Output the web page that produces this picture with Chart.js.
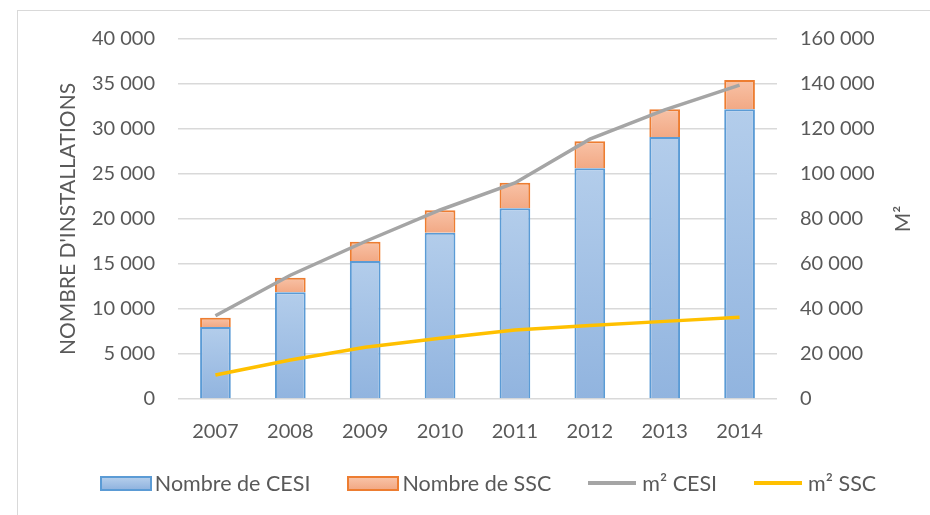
<!DOCTYPE html>
<html>
<head>
<meta charset="utf-8">
<script src="https://cdn.jsdelivr.net/npm/chart.js@4/dist/chart.umd.min.js"></script>
<style>
  html, body { margin: 0; padding: 0; background: #fff; }
  #wrap { position: relative; width: 930px; height: 515px; overflow: hidden; font-family: Lato, sans-serif; }
  #frame { position: absolute; left: 17px; top: 10px; width: 1000px; height: 600px; border: 1px solid #d9d9d9; box-sizing: border-box; }
  canvas { position: absolute; left: 0; top: 0; }
  #legend { position: absolute; left: 0; top: 470px; width: 976px; height: 26px; display: flex; justify-content: center; align-items: center; color: #595959; font-size: 21.5px; }
  .item { display: flex; align-items: center; margin: 0 18.5px; white-space: nowrap; }
  .sw { margin-right: 3px; box-sizing: border-box; }
</style>
</head>
<body>
<div id="wrap">
  <div id="frame"></div>
  <canvas id="c" width="930" height="515"></canvas>
  <div id="legend"></div>
</div>
<script>
const years = ['2007', '2008', '2009', '2010', '2011', '2012', '2013', '2014'];
const cesiCount = [8000, 11850, 15330, 18480, 21200, 25630, 29100, 32190];
const sscCount = [1030, 1630, 2150, 2480, 2830, 3000, 3100, 3250];
const m2Cesi = [37000, 55000, 70000, 84000, 96000, 115500, 128500, 139500];
const m2Ssc = [10700, 17300, 23000, 27000, 30700, 32700, 34500, 36300];
const seriesNames = ['Nombre de CESI', 'Nombre de SSC', 'm² CESI', 'm² SSC'];
const leftTitle = "NOMBRE D'INSTALLATIONS";
const rightTitle = 'M²';

const TEXT = '#595959';
const FONT = { family: 'Lato, sans-serif', size: 20 };
const TITLE_FONT = { family: 'Lato, sans-serif', size: 21 };

function fmt(v) {
  return String(Math.round(v)).replace(/\B(?=(\d{3})+(?!\d))/g, ' ');
}

function barGradient(baseArr, light, dark, fallback) {
  return (ctx) => {
    const chart = ctx.chart;
    if (!chart.chartArea || ctx.type !== 'data') return fallback;
    const y = chart.scales.y;
    const i = ctx.dataIndex;
    const base = baseArr ? baseArr[i] : 0;
    const top = base + ctx.raw;
    const y0 = y.getPixelForValue(top);
    const y1 = y.getPixelForValue(base);
    const g = chart.ctx.createLinearGradient(0, y0, 0, y1);
    g.addColorStop(0, light);
    g.addColorStop(1, dark);
    return g;
  };
}

const rightTitlePlugin = {
  id: 'rightTitle',
  afterDraw(chart) {
    const { ctx, chartArea } = chart;
    ctx.save();
    ctx.translate(903, (chartArea.top + chartArea.bottom) / 2);
    ctx.rotate(-Math.PI / 2);
    ctx.fillStyle = TEXT;
    ctx.font = TITLE_FONT.size + 'px ' + TITLE_FONT.family;
    ctx.textAlign = 'center';
    ctx.textBaseline = 'middle';
    ctx.fillText(rightTitle, 0, 0);
    ctx.restore();
  }
};

const chart = new Chart(document.getElementById('c'), {
  data: {
    labels: years,
    datasets: [
      {
        type: 'bar', label: seriesNames[0], data: cesiCount, yAxisID: 'y', order: 2,
        backgroundColor: barGradient(null, '#b3cdeb', '#91b4df', '#a3c1e6'),
        borderColor: '#5b9bd5', borderWidth: 2,
        barPercentage: 0.41, categoryPercentage: 1
      },
      {
        type: 'bar', label: seriesNames[1], data: sscCount, yAxisID: 'y', order: 2,
        backgroundColor: barGradient(cesiCount, '#f8c2a6', '#f2a985', '#f5b594'),
        borderColor: '#ed7d31', borderWidth: 2,
        barPercentage: 0.41, categoryPercentage: 1
      },
      {
        type: 'line', label: seriesNames[2], data: m2Cesi, yAxisID: 'y1', order: 1,
        borderColor: '#a5a5a5', borderWidth: 3.5, pointRadius: 0, tension: 0, fill: false
      },
      {
        type: 'line', label: seriesNames[3], data: m2Ssc, yAxisID: 'y1', order: 0,
        borderColor: '#ffc000', borderWidth: 3.5, pointRadius: 0, tension: 0, fill: false
      }
    ]
  },
  options: {
    responsive: false,
    animation: false,
    layout: { padding: { top: 39, left: 0, right: 0, bottom: 0 } },
    plugins: { legend: { display: false }, tooltip: { enabled: false } },
    scales: {
      x: {
        stacked: true,
        grid: { display: false, drawTicks: false },
        border: { display: false },
        ticks: { color: TEXT, font: FONT, padding: 21, maxRotation: 0 },
        afterFit(s) { s.height = 116; }
      },
      y: {
        position: 'left', stacked: true, min: 0, max: 40000,
        grid: { color: '#d9d9d9', lineWidth: 1.4, drawTicks: false },
        border: { display: false },
        ticks: { stepSize: 5000, color: TEXT, font: FONT, padding: 23, callback: (v) => fmt(v) },
        title: { display: true, text: leftTitle, color: TEXT, font: TITLE_FONT, padding: { top: 56, bottom: 0 } },
        afterFit(s) { s.width = 178; }
      },
      y1: {
        position: 'right', stacked: false, min: 0, max: 160000,
        grid: { display: false, drawTicks: false },
        border: { display: false },
        ticks: { stepSize: 20000, color: TEXT, font: FONT, padding: 23, callback: (v) => fmt(v) },
        afterFit(s) { s.width = 153; }
      }
    }
  },
  plugins: [rightTitlePlugin]
});

// HTML legend built from the chart datasets
const legend = document.getElementById('legend');
chart.data.datasets.forEach((ds) => {
  const item = document.createElement('div');
  item.className = 'item';
  const sw = document.createElement('span');
  sw.className = 'sw';
  if (ds.type === 'bar') {
    sw.style.width = '52px';
    sw.style.height = '15px';
    sw.style.border = '2px solid ' + ds.borderColor;
    sw.style.background = ds.borderColor === '#5b9bd5'
      ? 'linear-gradient(#b3cdeb, #91b4df)' : 'linear-gradient(#f8c2a6, #f2a985)';
  } else {
    sw.style.width = '48px';
    sw.style.height = '3.5px';
    sw.style.background = ds.borderColor;
    sw.style.marginRight = '6px';
  }
  const tx = document.createElement('span');
  tx.textContent = ds.label;
  item.appendChild(sw);
  item.appendChild(tx);
  legend.appendChild(item);
});
</script>
</body>
</html>
